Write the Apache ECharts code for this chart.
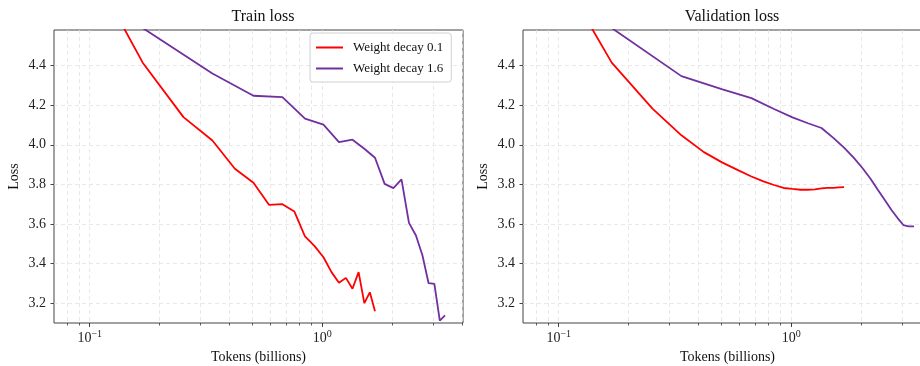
<!DOCTYPE html>
<html>
<head>
    <meta charset="utf-8">
    <title>Train / validation loss</title>
    <script src="https://cdn.jsdelivr.net/npm/echarts@6/dist/echarts.min.js"></script>
</head>
<body style="margin:0">
<div id="main" style="width: 920px;height:366px;"></div>
<script type="text/javascript">

    /* data ============================================ */
    // tokens seen (billions) at each eval step
    var tokensWd01 = [0.084, 0.169, 0.253, 0.337, 0.421, 0.506, 0.590, 0.674, 0.759, 0.843,
                      0.927, 1.012, 1.096, 1.180, 1.264, 1.349, 1.433, 1.517, 1.602, 1.686];
    var tokensWd16 = [0.169, 0.337, 0.506, 0.674, 0.843, 1.012, 1.180, 1.349, 1.517, 1.686,
                      1.855, 2.023, 2.192, 2.360, 2.529, 2.698, 2.866, 3.035, 3.203, 3.372];

    var trainWd01 = [5.07, 4.415, 4.140, 4.022, 3.879, 3.808, 3.697, 3.700, 3.663, 3.537,
                     3.488, 3.432, 3.357, 3.303, 3.328, 3.273, 3.357, 3.200, 3.255, 3.159];
    var trainWd16 = [4.59, 4.360, 4.248, 4.241, 4.132, 4.102, 4.014, 4.026, 3.980, 3.935,
                     3.803, 3.781, 3.825, 3.606, 3.542, 3.441, 3.301, 3.298, 3.112, 3.138];

    var valWd01 = [5.03, 4.415, 4.183, 4.048, 3.963, 3.910, 3.872, 3.840, 3.815, 3.797,
                   3.782, 3.777, 3.773, 3.773, 3.775, 3.780, 3.783, 3.783, 3.785, 3.786];
    var valWd16 = [4.59, 4.347, 4.280, 4.236, 4.181, 4.139, 4.109, 4.085, 4.035, 3.986,
                   3.935, 3.883, 3.829, 3.772, 3.720, 3.671, 3.630, 3.595, 3.588, 3.588];

    var seriesNames = ['Weight decay 0.1', 'Weight decay 1.6'];
    var panelTitles = ['Train loss', 'Validation loss'];

    var yTicks = [3.2, 3.4, 3.6, 3.8, 4.0, 4.2, 4.4];
    var xMajorTicks = [0.1, 1];
    var xMinorTicks = [0.08, 0.09, 0.1, 0.2, 0.3, 0.4, 0.5, 0.6, 0.7, 0.8, 0.9, 1, 2, 3, 4];

    /* style ============================================ */
    var FONT = '"Liberation Serif", "DejaVu Serif", serif';
    var RED = '#ff0000';
    var PURPLE = '#7030a0';
    var X_MIN = 0.0702, X_MAX = 4.03;
    var Y_MIN = 3.1, Y_MAX = 4.58;

    function pairs(xs, ys) {
        return xs.map(function (x, i) { return [x, ys[i]]; });
    }

    function minorX(gi) {
        return {
            type: 'log', logBase: 10, gridIndex: gi, position: 'bottom', min: X_MIN, max: X_MAX,
            axisLine: {show: false},
            axisTick: {show: true, length: 2.5, customValues: xMinorTicks,
                       lineStyle: {color: '#333', width: 0.8}},
            axisLabel: {show: false},
            splitLine: {show: true, lineStyle: {color: '#e3e3e3', width: 0.8, type: [4, 3]}}
        };
    }

    function majorX(gi) {
        return {
            type: 'log', logBase: 10, gridIndex: gi, position: 'bottom', min: X_MIN, max: X_MAX,
            name: 'Tokens (billions)', nameLocation: 'middle', nameGap: 27,
            nameTextStyle: {fontFamily: FONT, fontSize: 14, color: '#111'},
            axisLine: {show: false},
            axisTick: {show: true, length: 4, customValues: xMajorTicks,
                       lineStyle: {color: '#333', width: 0.9}},
            axisLabel: {
                customValues: xMajorTicks, margin: 6,
                formatter: function (v) {
                    var p = Math.round(Math.log10(v));
                    return '{b|10}{s|' + (p < 0 ? '\u2212' + (-p) : p) + '}';
                },
                rich: {
                    b: {fontFamily: FONT, fontSize: 14, color: '#222', verticalAlign: 'bottom'},
                    s: {fontFamily: FONT, fontSize: 10, color: '#222', verticalAlign: 'bottom',
                        padding: [0, 0, 6, 0]}
                }
            },
            splitLine: {show: false}
        };
    }

    function yAxis(gi) {
        return {
            type: 'value', gridIndex: gi, position: 'left', min: Y_MIN, max: Y_MAX,
            name: 'Loss', nameLocation: 'middle', nameGap: 33,
            nameTextStyle: {fontFamily: FONT, fontSize: 14, color: '#111'},
            axisLine: {show: false},
            axisTick: {show: true, length: 3.5, customValues: yTicks,
                       lineStyle: {color: '#333', width: 0.9}},
            axisLabel: {customValues: yTicks, margin: 8, fontFamily: FONT, fontSize: 14,
                        color: '#222', formatter: function (v) { return v.toFixed(1); }},
            splitLine: {show: true, lineStyle: {color: '#e3e3e3', width: 0.8, type: [4, 3]}}
        };
    }

    function line(name, gi, data, color) {
        return {
            name: name, type: 'line', xAxisIndex: gi * 2 + 1, yAxisIndex: gi,
            data: data, symbol: 'none', smooth: false, clip: true,
            lineStyle: {color: color, width: 1.8}, itemStyle: {color: color},
            emphasis: {disabled: true}
        };
    }

    var myChart = echarts.init(document.getElementById('main'), null, {renderer: 'canvas'});

    myChart.setOption({
        animation: false,
        backgroundColor: '#fff',
        title: [
            {text: panelTitles[0], left: 258, top: 4, textAlign: 'center',
             textStyle: {fontFamily: FONT, fontSize: 16, fontWeight: 'normal', color: '#111'}},
            {text: panelTitles[1], left: 727, top: 4, textAlign: 'center',
             textStyle: {fontFamily: FONT, fontSize: 16, fontWeight: 'normal', color: '#111'}}
        ],
        legend: {
            orient: 'vertical', left: 310, top: 33,
            data: seriesNames,
            icon: 'rect', itemWidth: 27, itemHeight: 2, itemGap: 6,
            padding: [7, 8, 6, 6],
            backgroundColor: 'rgba(255,255,255,0.85)',
            borderColor: '#d0d0d0', borderWidth: 1, borderRadius: 3,
            textStyle: {fontFamily: FONT, fontSize: 13, color: '#111', lineHeight: 15,
                        padding: [0, 0, 0, 5]}
        },
        grid: [
            {left: 54, top: 30, width: 409, height: 293, show: true, outerBoundsMode: 'none',
             containLabel: false, borderColor: '#444', borderWidth: 1, backgroundColor: 'transparent'},
            {left: 523, top: 30, width: 409, height: 293, show: true, outerBoundsMode: 'none',
             containLabel: false, borderColor: '#444', borderWidth: 1, backgroundColor: 'transparent'}
        ],
        xAxis: [minorX(0), majorX(0), minorX(1), majorX(1)],
        yAxis: [yAxis(0), yAxis(1)],
        series: [
            line(seriesNames[0], 0, pairs(tokensWd01, trainWd01), RED),
            line(seriesNames[1], 0, pairs(tokensWd16, trainWd16), PURPLE),
            line(seriesNames[0], 1, pairs(tokensWd01, valWd01), RED),
            line(seriesNames[1], 1, pairs(tokensWd16, valWd16), PURPLE)
        ]
    });

</script>
</body>
</html>
